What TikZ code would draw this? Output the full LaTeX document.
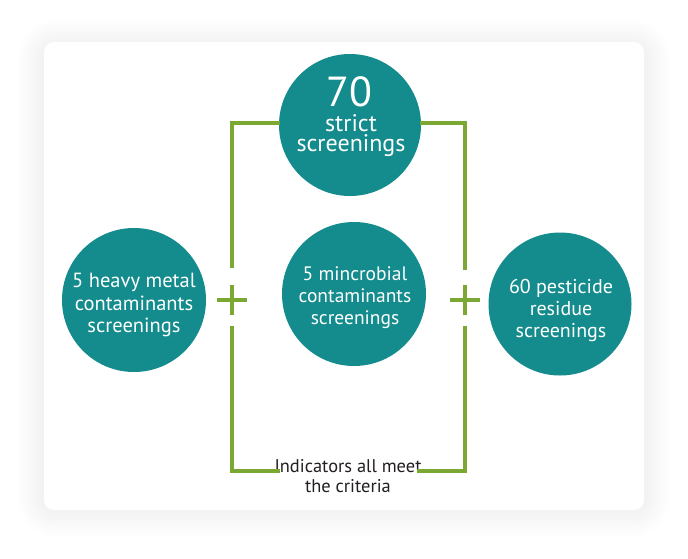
\documentclass[tikz,border=0pt]{standalone}
\usepackage{fontspec}
\setmainfont{PT Sans}
\usetikzlibrary{calc}
\definecolor{teal1}{HTML}{148B8C}
\definecolor{leaf}{HTML}{7AA832}
\definecolor{txt}{HTML}{231F20}
\begin{document}
\begin{tikzpicture}[x=1pt,y=-1pt,
  disc/.style={circle,fill=teal1,inner sep=0pt,minimum size=#1,text=white,align=center},
  gline/.style={draw=leaf,line width=3.2pt},
  wt/.style={text=white,inner sep=0pt,anchor=base},
  lbl/.style={font=\fontsize{20.5}{22.5}\selectfont,text=white,align=center,inner sep=0pt}]
\useasboundingbox (0,0) rectangle (688,558);
\fill[white] (0,0) rectangle (688,558);
% shadow
\foreach \d in {2,4,...,26}{
  \fill[black,opacity=0.0045,rounded corners=12+\d] (44-\d,42-\d+4) rectangle (644+\d,510+\d);
}
\fill[white,rounded corners=10] (44,42) rectangle (644,510);
% circles
\node[disc=142pt] (top) at (350,125) {};
\node[disc=144pt] (mid) at (354,294) {};
\node[disc=144pt] (left) at (134,300) {};
\node[disc=143pt] (right) at (560,304) {};
% texts
\node[wt,font=\fontsize{42}{42}\selectfont] (n70) at (349,106) {70};
\node[wt,font=\fontsize{24}{24}\selectfont] (ts1) at (351,131) {strict};
\node[wt,font=\fontsize{24}{24}\selectfont] (ts2) at (351,151) {screenings};
\node[lbl] (tleft) at (134,305) {5 heavy metal\\contaminants\\screenings};
\node[lbl,font=\fontsize{19.5}{22}\selectfont] (tmid) at (355,298) {5 mincrobial\\contaminants\\screenings};
\node[lbl,font=\fontsize{20}{22}\selectfont] (tright) at (561,310) {60 pesticide\\residue\\screenings};
\node[text=txt,align=center,inner sep=0pt,font=\fontsize{18.4}{20}\selectfont] (ind) at (348,476) {Indicators all meet\\the criteria};
% connector coordinates
\coordinate (tl) at (280,123);
\coordinate (tr) at (420,123);
\coordinate (lc) at (232,300);
\coordinate (rc) at (465,300);
\coordinate (bl) at (280,471);
\coordinate (br) at (417,471);
\draw[gline] (tl) -- (lc |- tl) -- ($(lc)+(0,-32)$);
\draw[gline] (tr) -- (rc |- tr) -- ($(rc)+(0,-30)$);
\draw[gline] ($(lc)+(0,26)$) -- (lc |- bl) -- (bl);
\draw[gline] ($(rc)+(0,26)$) -- (rc |- br) -- (br);
% plus signs
\draw[gline] ($(lc)+(-15,0)$) -- ($(lc)+(15,0)$) ($(lc)+(0,-15)$) -- ($(lc)+(0,15)$);
\draw[gline] ($(rc)+(-15,0)$) -- ($(rc)+(15,0)$) ($(rc)+(0,-15)$) -- ($(rc)+(0,15)$);
\end{tikzpicture}
\end{document}
